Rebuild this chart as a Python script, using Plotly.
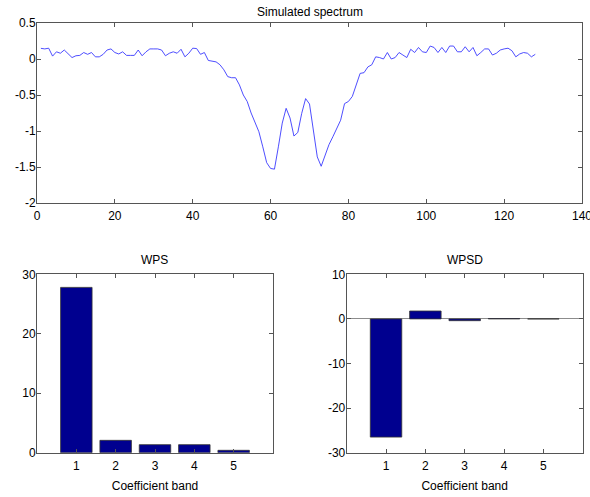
import plotly.graph_objects as go

# ---- data ----
spec_x = list(range(1, 129))
spec_y = [0.148, 0.14, 0.15, 0.04, 0.10, 0.08, 0.125, 0.065, 0.02, 0.045,
          0.05, 0.09, 0.065, 0.09, 0.03, 0.03, 0.065, 0.125, 0.14, 0.09,
          0.07, 0.10, 0.05, 0.05, 0.05, 0.125, 0.045, 0.10, 0.14, 0.14,
          0.14, 0.125, 0.045, 0.08, 0.10, 0.08, 0.135, 0.03, 0.08, 0.15,
          0.145, 0.065, 0.09, -0.02, -0.03, -0.04, -0.08, -0.15, -0.245, -0.26,
          -0.26, -0.36, -0.5, -0.59, -0.75, -0.87, -1.01, -1.22, -1.44, -1.52,
          -1.53, -1.22, -0.89, -0.685, -0.82, -1.07, -1.02, -0.755, -0.55, -0.625,
          -1.03, -1.36, -1.49, -1.33, -1.19, -1.08, -0.96, -0.85, -0.62, -0.59,
          -0.52, -0.36, -0.20, -0.19, -0.11, -0.08, 0.03, 0.02, 0.0, 0.09,
          0.0, 0.02, 0.09, 0.055, 0.02, 0.135, 0.09, 0.16, 0.10, 0.09,
          0.18, 0.16, 0.09, 0.16, 0.09, 0.18, 0.18, 0.10, 0.10, 0.17,
          0.10, 0.16, 0.045, 0.09, 0.14, 0.14, 0.055, 0.08, 0.125, 0.14,
          0.15, 0.115, 0.03, 0.07, 0.09, 0.08, 0.03, 0.065]

bands = [1, 2, 3, 4, 5]
wps = [27.8, 2.08, 1.35, 1.35, 0.4]
wpsd = [-26.5, 1.77, -0.4, 0.08, 0.0]

top_xticks = [0, 20, 40, 60, 80, 100, 120, 140]
top_yticks = [-2, -1.5, -1, -0.5, 0, 0.5]
top_yticktext = ["-2", "-1.5", "-1", "-0.5", "0", "0.5"]
wps_yticks = [0, 10, 20, 30]
wpsd_yticks = [-30, -20, -10, 0, 10]
wpsd_yticktext = ["-30", "-20", "-10", "0", "10"]

W, H = 590, 497
font = dict(family="Liberation Sans, Arial, Helvetica, sans-serif", size=12, color="black")

fig = go.Figure()
fig.add_trace(go.Scatter(x=spec_x, y=spec_y, mode="lines",
                         line=dict(color="#3a3aff", width=0.9),
                         xaxis="x", yaxis="y", showlegend=False))
bar_style = dict(marker=dict(color="#00008f", line=dict(color="#333333", width=0.8)),
                 width=0.8, showlegend=False)
fig.add_trace(go.Bar(x=bands, y=wps, xaxis="x2", yaxis="y2", **bar_style))
fig.add_trace(go.Bar(x=bands, y=wpsd, xaxis="x3", yaxis="y3", **bar_style))

ax_common = dict(showline=True, linecolor="#555555", linewidth=1, mirror="allticks",
                 ticks="inside", ticklen=4, tickcolor="#555555", showgrid=False,
                 automargin=False, ticklabeloverflow="allow", tickfont=font)
x_common = dict(ticklabelstandoff=2, **ax_common)
y_common = dict(ticklabelstandoff=-2, **ax_common)

def px_x(p):
    return p / W

def px_y(p):
    return 1 - p / H

fig.update_layout(
    width=W, height=H, margin=dict(l=0, r=0, t=0, b=0),
    paper_bgcolor="white", plot_bgcolor="white", font=font,
    bargap=0.2,
    xaxis=dict(domain=[px_x(37), px_x(582)], range=[0, 140], tickvals=top_xticks,
               anchor="y", zeroline=False, **x_common),
    yaxis=dict(domain=[px_y(203), px_y(23)], range=[-2, 0.5], tickvals=top_yticks,
               ticktext=top_yticktext, anchor="x", zeroline=False, **y_common),
    xaxis2=dict(domain=[px_x(37), px_x(273)], range=[0, 6], tickvals=bands,
                anchor="y2", zeroline=False,
                title=dict(text="Coefficient band", font=font, standoff=9),
                **x_common),
    yaxis2=dict(domain=[px_y(452.7), px_y(274.3)], range=[0, 30], tickvals=wps_yticks,
                anchor="x2", zeroline=False, **y_common),
    xaxis3=dict(domain=[px_x(346.7), px_x(582.7)], range=[0, 6], tickvals=bands,
                anchor="y3", zeroline=False,
                title=dict(text="Coefficient band", font=font, standoff=9),
                **x_common),
    yaxis3=dict(domain=[px_y(452.7), px_y(274.3)], range=[-30, 10], tickvals=wpsd_yticks,
                ticktext=wpsd_yticktext, anchor="x3",
                zeroline=True, zerolinecolor="#8c8c8c", zerolinewidth=1, **y_common),
    annotations=[
        dict(text="Simulated spectrum", x=(px_x(37) + px_x(582)) / 2, y=px_y(12),
             xref="paper", yref="paper", showarrow=False, font=font,
             xanchor="center", yanchor="middle"),
        dict(text="WPS", x=(px_x(37) + px_x(273)) / 2, y=px_y(260),
             xref="paper", yref="paper", showarrow=False, font=font,
             xanchor="center", yanchor="middle"),
        dict(text="WPSD", x=(px_x(346.7) + px_x(582.7)) / 2, y=px_y(260),
             xref="paper", yref="paper", showarrow=False, font=font,
             xanchor="center", yanchor="middle"),
    ],
)

fig.write_html("out.html", config={"displayModeBar": False},
               post_script="document.body.style.margin='0';document.body.style.padding='0';")
